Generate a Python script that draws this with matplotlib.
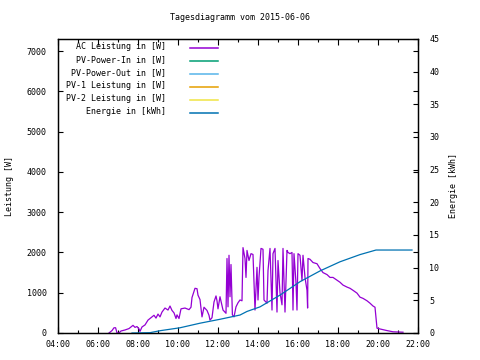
import matplotlib
matplotlib.use("Agg")
import matplotlib.pyplot as plt

plt.rcParams['font.family'] = 'DejaVu Sans Mono'
plt.rcParams['font.size'] = 6

title = "Tagesdiagramm vom 2015-06-06"

# AC Leistung (W) over the day, hours as decimal
ac_hours = [6.55, 6.70, 6.80, 6.88, 6.95, 7.05, 7.15, 7.35, 7.55, 7.75, 7.85, 7.95,
            8.05, 8.10, 8.20, 8.35, 8.50, 8.70, 8.80, 8.90, 9.00, 9.10, 9.20, 9.35,
            9.50, 9.60, 9.70, 9.80, 9.90, 9.95, 10.05, 10.15, 10.35, 10.55, 10.65,
            10.70, 10.85, 10.95, 11.00, 11.10, 11.20, 11.30, 11.45, 11.55, 11.60,
            11.70, 11.80, 11.90, 11.95, 12.00, 12.10, 12.25, 12.40, 12.45, 12.50,
            12.55, 12.60, 12.65, 12.72, 12.80, 12.90, 13.00, 13.10, 13.20, 13.25,
            13.35, 13.40, 13.45, 13.55, 13.65, 13.75, 13.85, 13.95, 14.00, 14.05,
            14.15, 14.25, 14.30, 14.45, 14.50, 14.60, 14.70, 14.75, 14.85, 14.95,
            15.00, 15.10, 15.20, 15.25, 15.35, 15.45, 15.50, 15.60, 15.70, 15.75,
            15.80, 15.90, 15.95, 16.00, 16.10, 16.20, 16.25, 16.35, 16.45, 16.48,
            16.50, 16.60, 16.75, 16.95, 17.10, 17.25, 17.45, 17.60, 17.75, 17.95,
            18.10, 18.25, 18.45, 18.60, 18.75, 18.95, 19.10, 19.25, 19.45, 19.60,
            19.75, 19.85, 19.90, 19.95, 20.10, 20.45, 20.75, 21.25]
ac_watts = [0, 60, 130, 130, 0, 0, 50, 75, 110, 190, 140, 160,
            100, 40, 150, 200, 320, 400, 440, 370, 470, 400, 520, 620,
            570, 670, 560, 500, 360, 450, 360, 600, 620, 580, 640,
            880, 1110, 1100, 940, 830, 400, 640, 560, 440, 320,
            380, 770, 920, 800, 600, 900, 570, 490, 1850, 650,
            1930, 900, 1700, 450, 400, 650, 750, 820, 800, 2120,
            1850, 1380, 2050, 1800, 1970, 1950, 570, 1630, 820, 1380,
            2100, 2080, 820, 740, 1550, 2100, 570, 1970, 2100, 520,
            1800, 1000, 700, 2100, 520, 2050, 2000, 1970, 2000, 570,
            1970, 1240, 570, 1970, 1930, 1300, 1930, 1380, 1060, 620,
            1850, 1830, 1750, 1720, 1600, 1500, 1450, 1380, 1380, 1310,
            1260, 1190, 1140, 1110, 1060, 990, 890, 860, 800, 740,
            670, 640, 370, 120, 100, 60, 30, 20]

# Energie (kWh), cumulative
en_hours = [7.70, 8.60, 9.10, 10.10, 11.10, 12.10, 13.10, 13.45, 14.10, 15.10,
            16.10, 17.10, 18.10, 19.10, 19.90, 20.10, 21.70]
en_kwh = [0.0, 0.05, 0.35, 0.8, 1.5, 2.1, 2.75, 3.3, 4.0, 5.8,
          7.85, 9.5, 10.9, 12.0, 12.7, 12.7, 12.7]

legend_labels = ["AC Leistung in [W]", "PV-Power-In in [W]", "PV-Power-Out in [W]",
                 "PV-1 Leistung in [W]", "PV-2 Leistung in [W]", "Energie in [kWh]"]
legend_colors = ["#9400d3", "#009e73", "#56b4e9", "#e69f00", "#f0e442", "#0072b2"]

x_ticks = [4, 6, 8, 10, 12, 14, 16, 18, 20, 22]
x_ticklabels = ["%02d:00" % h for h in x_ticks]

fig = plt.figure(figsize=(4.8, 3.6), dpi=100)
ax = fig.add_axes([58 / 480, 27 / 360, 360 / 480, 294 / 360])
ax2 = ax.twinx()

ax.plot(ac_hours, ac_watts, color=legend_colors[0], lw=0.9)
ax2.plot(en_hours, en_kwh, color=legend_colors[5], lw=0.9)

ax.set_xlim(4, 22)
ax.set_ylim(0, 7300)
ax2.set_ylim(0, 45)

ax.set_xticks(x_ticks)
ax.set_xticklabels(x_ticklabels)
ax.set_xticks(range(5, 22, 2), minor=True)
ax.set_yticks(range(0, 7001, 1000))
ax2.set_yticks(range(0, 46, 5))

ax.tick_params(axis='x', which='both', direction='in', top=True, pad=5)
ax.tick_params(axis='x', which='major', length=4, width=0.8)
ax.tick_params(axis='x', which='minor', length=2.5, width=0.8)
ax.tick_params(axis='y', direction='in', right=True, length=3.5, width=0.8, pad=8)
ax2.tick_params(axis='y', direction='in', length=3.5, width=0.8, pad=8)

for a in (ax, ax2):
    for s in a.spines.values():
        s.set_linewidth(0.9)

ax.set_ylabel("Leistung [W]", labelpad=9)
ax2.set_ylabel("Energie [kWh]", labelpad=7)
fig.text(0.5, 1 - 18 / 360, title, ha='center', va='center')

# key in the gnuplot style: right aligned text, sample line to the right
for i, (lab, col) in enumerate(zip(legend_labels, legend_colors)):
    yy = 0.969 - i * 0.0442
    ax.text(0.30, yy + 0.006, lab, transform=ax.transAxes, ha='right', va='center')
    ax.plot([0.367, 0.444], [yy, yy], transform=ax.transAxes, color=col, lw=1.1)

fig.savefig("out.png", dpi=100)
